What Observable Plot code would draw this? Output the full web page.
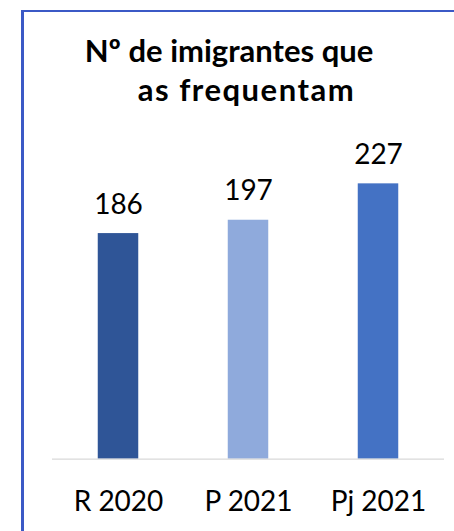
<!DOCTYPE html>
<html>
<head>
<meta charset="utf-8">
<script src="https://cdn.jsdelivr.net/npm/d3@7"></script>
<script src="https://cdn.jsdelivr.net/npm/@observablehq/plot@0.6"></script>
<style>
  html, body { margin: 0; padding: 0; background: #fff; }
  body { width: 454px; height: 531px; position: relative; overflow: hidden; font-family: Lato, "Open Sans", sans-serif; }
  #frame { position: absolute; left: 21px; top: 10px; width: 460px; height: 560px; border-left: 3px solid #3b59c6; border-top: 2.5px solid #3b59c6; }
  .tl { position: absolute; font-weight: bold; font-size: 31px; line-height: 31px; color: #000; white-space: nowrap; transform: translateX(-50%); }
  #chart { position: absolute; left: 0; top: 120px; }
</style>
</head>
<body>
<div id="frame"></div>
<div class="tl" style="left:229px; top:34.8px;">Nº de imigrantes que</div>
<div class="tl" style="left:246.5px; top:74.2px; letter-spacing:1.5px;">as frequentam</div>
<div id="chart"></div>
<script>
const categories = ["R 2020", "P 2021", "Pj 2021"];
const values = [186, 197, 227];
const colors = ["#2F5597", "#8FAADC", "#4472C4"];

const data = categories.map((c, i) => ({cat: c, value: values[i], color: colors[i]}));

const baseY = 338.7;
const pxPerUnit = 1.213;

const chart = Plot.plot({
  width: 454,
  height: 411,
  marginLeft: 52,
  marginRight: 10,
  marginTop: 0,
  marginBottom: 0,
  style: { fontFamily: "Lato, 'Open Sans', sans-serif", background: "transparent", color: "#000" },
  x: { domain: categories, padding: 0, label: null },
  y: { domain: [0, 250], range: [baseY, baseY - 250 * pxPerUnit], axis: null },
  marks: [
    Plot.barY(data, { x: "cat", y: "value", fill: "color", insetLeft: 44.75, insetRight: 44.75 }),
    Plot.ruleY([0], { stroke: "#d9d9d9", strokeWidth: 1.2 }),
    Plot.text(data, { x: "cat", y: "value", text: d => String(d.value), dy: -20, lineAnchor: "bottom", fontSize: 28, fill: "#000" }),
    Plot.axisX({ anchor: "bottom", tickSize: 0, tickPadding: 32, fontSize: 28, label: null, y: 0, fill: "#000" })
  ]
});
document.getElementById("chart").appendChild(chart);
</script>
</body>
</html>
